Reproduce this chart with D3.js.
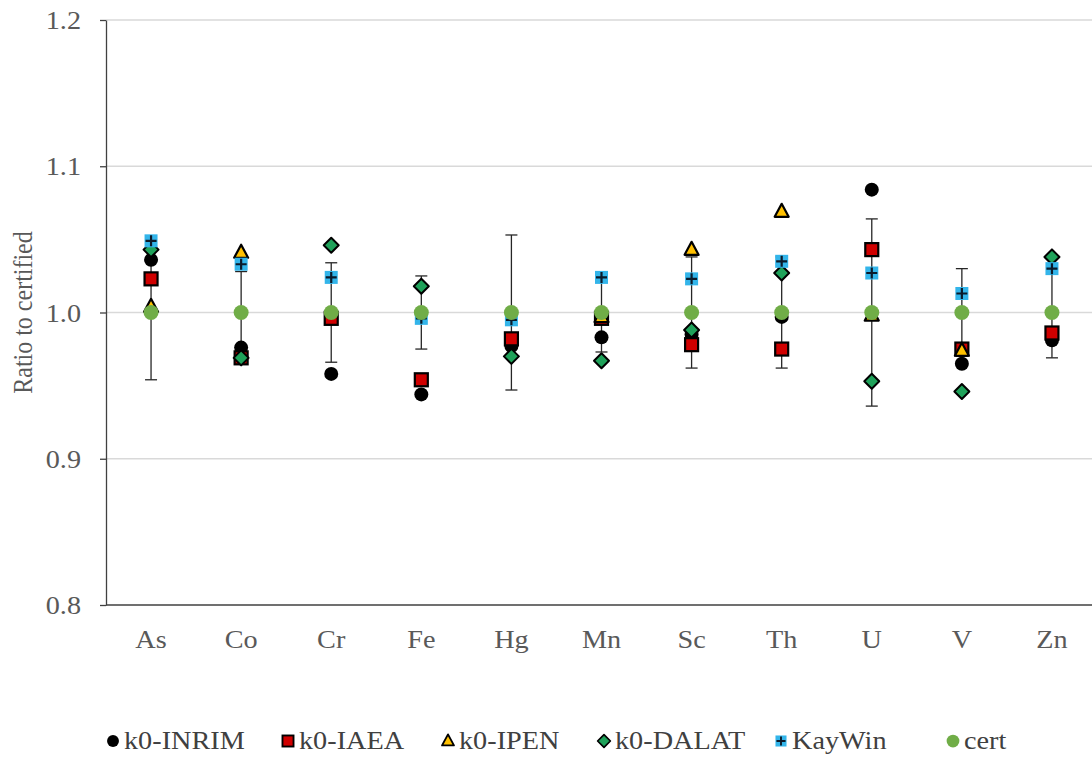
<!DOCTYPE html>
<html><head><meta charset="utf-8">
<script src="https://cdn.jsdelivr.net/npm/d3@7"></script>
<style>body{margin:0;background:#fff;}svg{display:block;} svg text{font-family:"Liberation Serif","Times New Roman",serif;}</style>
</head><body>
<svg id="chart" width="1092" height="758"></svg>
<script>
const categories = ["As","Co","Cr","Fe","Hg","Mn","Sc","Th","U","V","Zn"];
const inrim  = [1.036,0.976,0.958,0.944,0.977,0.983,0.985,0.997,1.084,0.965,0.981];
const iaea   = [1.023,0.969,0.996,0.954,0.982,0.996,0.978,0.975,1.043,0.975,0.986];
const ipen   = [1.004,1.041,null,null,null,0.997,1.043,1.069,0.998,0.974,null];
const dalat  = [1.043,0.969,1.046,1.018,0.970,0.967,0.988,1.027,0.953,0.946,1.038];
const kaywin = [1.049,1.033,1.024,0.996,0.995,1.024,1.023,1.035,1.027,1.013,1.030];
const cert   = [1,1,1,1,1,1,1,1,1,1,1];
const certUnc = [0.046,0.028,0.034,0.025,0.053,0.027,0.038,0.038,0.064,0.030,0.031];
const yTicks = [0.8,0.9,1.0,1.1,1.2];
const seriesNames = ["k0-INRIM","k0-IAEA","k0-IPEN","k0-DALAT","KayWin","cert"];

const svg = d3.select("#chart");
const W = 1092, H = 758;
const mLeft = 106, mTop = 20, mBottom = 605, mRight = 1097;
const x = d3.scaleBand().domain(categories).range([mLeft, mRight]).padding(0);
const y = d3.scaleLinear().domain([0.8, 1.2]).range([mBottom, mTop]);
const cx = c => x(c) + x.bandwidth() / 2;
const font = '"Liberation Serif","Times New Roman",serif';
const grey = "#595959";
const sx = 1.13; // horizontal stretch of the lettering

// gridlines
svg.append("g").selectAll("line").data(yTicks.filter(t => t > 0.8)).join("line")
  .attr("x1", mLeft).attr("x2", W).attr("y1", d => y(d)).attr("y2", d => y(d))
  .attr("stroke", "#d9d9d9").attr("stroke-width", 1.3);

// y axis
const yAxis = d3.axisLeft(y).tickValues(yTicks).tickFormat(d3.format(".1f")).tickSize(6).tickSizeOuter(0);
const ya = svg.append("g").attr("transform", `translate(${mLeft},0)`).call(yAxis);
ya.attr("font-family", null);
ya.select(".domain").attr("stroke", "#404040").attr("stroke-width", 1.3);
ya.selectAll(".tick line").attr("stroke", "#404040").attr("stroke-width", 1.3);
ya.selectAll(".tick text").style("font-family", font).style("font-size", "25px").attr("fill", grey)
  .attr("x", -25 / sx).attr("dy", "0.34em").attr("transform", `scale(${sx},1)`);

// x axis
const xAxis = d3.axisBottom(x).tickSize(0).tickSizeOuter(0);
const xa = svg.append("g").attr("transform", `translate(0,${mBottom})`).call(xAxis);
xa.attr("font-family", null);
xa.select(".domain").attr("stroke", "#404040").attr("stroke-width", 1.3).attr("d", `M${mLeft},0H${W}`);
xa.selectAll(".tick text").style("font-family", font).style("font-size", "25px").attr("fill", grey)
  .attr("dy", 0).attr("y", 43).attr("transform", `scale(${sx},1)`);

// y label
svg.append("text").attr("transform", `translate(32,${(mTop + mBottom) / 2}) scale(${sx},1) rotate(-90)`)
  .attr("text-anchor", "middle").style("font-family", font).style("font-size", "24px").attr("fill", grey)
  .text("Ratio to certified");

// error bars
const eb = svg.append("g").selectAll("g").data(categories).join("g");
eb.append("line").attr("x1", d => cx(d)).attr("x2", d => cx(d))
  .attr("y1", (d, i) => y(cert[i] + certUnc[i])).attr("y2", (d, i) => y(cert[i] - certUnc[i]))
  .attr("stroke", "#262626").attr("stroke-width", 1.3);
[1, -1].forEach(s => {
  eb.append("line").attr("x1", d => cx(d) - 6).attr("x2", d => cx(d) + 6)
    .attr("y1", (d, i) => y(cert[i] + s * certUnc[i])).attr("y2", (d, i) => y(cert[i] + s * certUnc[i]))
    .attr("stroke", "#262626").attr("stroke-width", 1.3);
});

// marker drawers
function drawMarker(g, type, px, py, scale) {
  const s = scale || 1;
  if (type === "inrim") {
    g.append("circle").attr("cx", px).attr("cy", py).attr("r", 7 * s).attr("fill", "#000");
  } else if (type === "iaea") {
    const a = 13 * s;
    g.append("rect").attr("x", px - a / 2).attr("y", py - a / 2).attr("width", a).attr("height", a)
      .attr("fill", "#d00000").attr("stroke", "#000").attr("stroke-width", 2.2 * s);
  } else if (type === "ipen") {
    const w = 14 * s, h = 13 * s;
    g.append("path").attr("d", `M${px},${py - h * 0.6}L${px + w / 2},${py + h * 0.4}L${px - w / 2},${py + h * 0.4}Z`)
      .attr("fill", "#ffc000").attr("stroke", "#000").attr("stroke-width", 2.2 * s).attr("stroke-linejoin", "round");
  } else if (type === "dalat") {
    const r = 7.5 * s;
    g.append("path").attr("d", `M${px},${py - r}L${px + r},${py}L${px},${py + r}L${px - r},${py}Z`)
      .attr("fill", "#1fa25a").attr("stroke", "#000").attr("stroke-width", 2 * s).attr("stroke-linejoin", "round");
  } else if (type === "kaywin") {
    const a = 13 * s;
    g.append("rect").attr("x", px - a / 2).attr("y", py - a / 2).attr("width", a).attr("height", a)
      .attr("fill", "#33b5ea");
    g.append("path").attr("d", `M${px - a / 2 + 1},${py}H${px + a / 2 - 1}M${px},${py - a / 2 + 1}V${py + a / 2 - 1}`)
      .attr("stroke", "#0a1a2a").attr("stroke-width", 2.2 * s);
  } else if (type === "cert") {
    g.append("circle").attr("cx", px).attr("cy", py).attr("r", 7.5 * s).attr("fill", "#70ad47");
  }
}

const series = [
  ["inrim", inrim], ["iaea", iaea], ["ipen", ipen], ["dalat", dalat], ["kaywin", kaywin], ["cert", cert]
];
series.forEach(([type, vals]) => {
  const g = svg.append("g");
  categories.forEach((c, i) => {
    if (vals[i] == null) return;
    drawMarker(g, type, cx(c), y(vals[i]), 1);
  });
});

// legend
const legendX = [113, 288, 448, 604, 781, 953];
const lg = svg.append("g");
series.forEach(([type], i) => {
  drawMarker(lg, type, legendX[i], 741, 0.85);
  lg.append("text").attr("transform", `translate(${legendX[i] + 11},749) scale(${sx},1)`)
    .style("font-family", font).style("font-size", "25px").attr("fill", "#404040")
    .text(seriesNames[i]);
});
</script>
</body></html>
